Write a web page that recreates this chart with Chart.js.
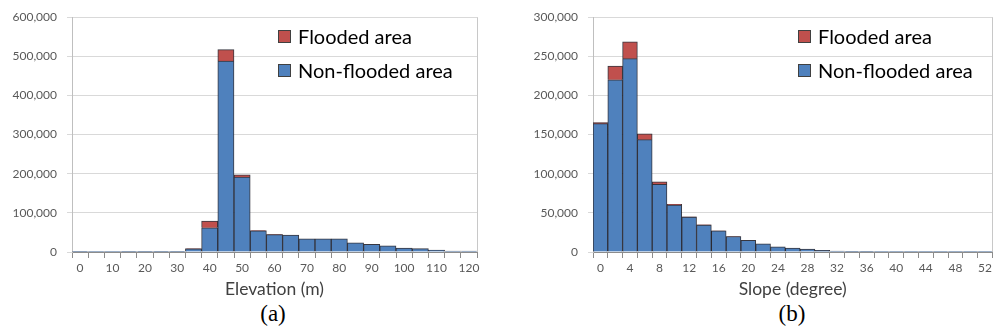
<!DOCTYPE html>
<html>
<head>
<meta charset="utf-8">
<script src="https://cdn.jsdelivr.net/npm/chart.js@4.4.1/dist/chart.umd.min.js"></script>
<style>
  body { margin: 0; background: #fff; width: 995px; height: 332px; position: relative; overflow: hidden; font-family: Lato, sans-serif; }
  .panel { position: absolute; top: 0; }
  .legend { position: absolute; top: 19px; font-size: 20px; color: #000; }
  .legend .row { display: flex; align-items: center; height: 34px; }
  .sw { width: 13px; height: 13px; border: 1px solid #404040; margin-right: 7px; box-sizing: border-box; }
  .cap { position: absolute; top: 301px; font-family: "Liberation Serif", serif; font-size: 23px; transform: translateX(-50%); }
</style>
</head>
<body>
<canvas id="chart-elev" class="panel" style="left:0" width="490" height="300"></canvas>
<canvas id="chart-slope" class="panel" style="left:500px" width="495" height="300"></canvas>

<div class="legend" style="left:278px">
  <div class="row"><span class="sw" style="background:#C0504D"></span>Flooded area</div>
  <div class="row"><span class="sw" style="background:#4F81BD"></span>Non-flooded area</div>
</div>
<div class="legend" style="left:798px">
  <div class="row"><span class="sw" style="background:#C0504D"></span>Flooded area</div>
  <div class="row"><span class="sw" style="background:#4F81BD"></span>Non-flooded area</div>
</div>
<div class="cap" style="left:273px">(a)</div>
<div class="cap" style="left:792px">(b)</div>

<script>
  // ----- Data -----
  const elevBins = ["0","5","10","15","20","25","30","35","40","45","50","55","60",
                    "65","70","75","80","85","90","95","100","105","110","115","120"];
  const elevNonFlooded = [300, 200, 200, 300, 400, 600, 900, 8000, 62000, 488000, 191500, 54000, 44500,
                          43000, 33500, 33500, 33500, 23500, 19500, 16000, 10000, 8500, 5000, 2500, 2500];
  const elevFlooded = [null, null, null, null, null, null, null, 500, 17000, 29000, 6000, 1000, 500,
                       null, null, null, null, null, null, null, null, null, null, null, null];

  const slopeBins = ["0","2","4","6","8","10","12","14","16","18","20","22","24","26",
                     "28","30","32","34","36","38","40","42","44","46","48","50","52"];
  const slopeNonFlooded = [164000, 220000, 247000, 143500, 86500, 60000, 44500, 34500, 27000, 19800, 15000, 10500, 6500, 5000,
                           3800, 2000, 1300, 400, 200, 100, 60, 40, 20, 10, 10, 5, 5];
  const slopeFlooded = [1200, 17500, 21500, 7500, 3000, 1000, 500, 300, 200, 100, null, null, null, null,
                        null, null, null, null, null, null, null, null, null, null, null, null, null];

  const palette = { flooded: "#C0504D", nonFlooded: "#4F81BD", edge: "rgba(20,20,30,0.85)" };

  // gray frame on the right edge of the plot area
  const frameRight = {
    id: "frameRight",
    beforeDatasetsDraw(chart) {
      const { ctx, chartArea: a } = chart;
      ctx.save();
      ctx.strokeStyle = "#C8C8C8";
      ctx.lineWidth = 1;
      ctx.beginPath();
      ctx.moveTo(Math.round(a.right) + 0.5, a.top);
      ctx.lineTo(Math.round(a.right) + 0.5, a.bottom);
      ctx.stroke();
      ctx.restore();
    },
  };

  function makeChart(id, labels, nonFlooded, flooded, yMax, yStep, title, yWidth, rightPad) {
    return new Chart(document.getElementById(id), {
      type: "bar",
      data: {
        labels: labels,
        datasets: [
          { label: "Non-flooded area", data: nonFlooded, backgroundColor: palette.nonFlooded,
            borderColor: palette.edge, borderWidth: 1, barPercentage: 1, categoryPercentage: 1 },
          { label: "Flooded area", data: flooded, backgroundColor: palette.flooded,
            borderColor: palette.edge, borderWidth: 1, barPercentage: 1, categoryPercentage: 1 },
        ],
      },
      options: {
        responsive: false,
        devicePixelRatio: 1,
        animation: false,
        layout: { padding: { top: 15, right: rightPad, left: 0, bottom: 0 } },
        plugins: { legend: { display: false }, tooltip: { enabled: false } },
        scales: {
          x: {
            stacked: true,
            grid: { offset: true, drawOnChartArea: false, drawTicks: true, tickLength: 6, color: "#8C8C8C" },
            border: { color: "#8C8C8C" },
            ticks: {
              autoSkip: false, maxRotation: 0, padding: 3,
              color: "#595959", font: { family: "Lato", size: 12 },
              callback: (v, i) => (i % 2 === 0 ? labels[i] : ""),
            },
            title: { display: true, text: title, color: "#404040", font: { family: "Lato", size: 17.5 }, padding: 0 },
            afterFit: (s) => { s.height = 48; },
          },
          y: {
            stacked: true,
            min: 0, max: yMax,
            grid: { color: "#D9D9D9", tickLength: 5 },
            border: { color: "#BFBFBF" },
            ticks: {
              stepSize: yStep, padding: 10,
              color: "#595959", font: { family: "Lato", size: 12 },
              callback: (v) => v.toLocaleString("en-US"),
            },
            afterFit: (s) => { s.width = yWidth; },
          },
        },
      },
      plugins: [frameRight],
    });
  }

  makeChart("chart-elev", elevBins, elevNonFlooded, elevFlooded, 600000, 100000, "Elevation (m)", 72, 13);
  makeChart("chart-slope", slopeBins, slopeNonFlooded, slopeFlooded, 300000, 50000, "Slope (degree)", 93, 2);
</script>
</body>
</html>
